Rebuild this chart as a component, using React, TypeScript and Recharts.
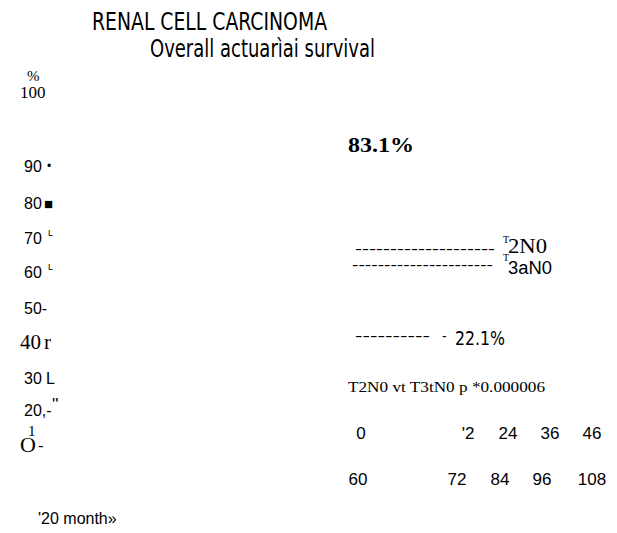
import React from "react";
import { ComposedChart, XAxis, YAxis, Customized } from "recharts";

// ---- data (text content) ----
const titleLines = ["RENAL CELL CARCINOMA", "Overall actuarìai survival"];
const yUnit = "%";
const yTickLabels = ["100", "90", "80", "70", "60", "50-", "40", "30", "20,-", "O"];
const yTickMarks = ["", "•", "■", "L", "L", "", "r", "L", "''", "-"];
const seriesNames = ["2N0", "3aN0"];
const survivalLabels = ["83.1%", "22.1%"];
const pValueText = "T2N0 vt T3tN0 p *0.000006";
const xTicksRow1 = ["0", "'2", "24", "36", "46"];
const xTicksRow2 = ["60", "72", "84", "96", "108"];
const xAxisLabel = "'20 month»";

// ---- layout / styles ----
const SANS = "'Liberation Sans', Arial, sans-serif";
const SERIF = "'Liberation Serif', 'Times New Roman', serif";
const COND = "'DejaVu Sans Condensed', 'DejaVu Sans', sans-serif";

const yTickY = [98, 172, 209, 244, 278, 314, 349, 384, 416, 452];
const yTickStyle = [
  { f: SERIF, s: 17, x: 20 },
  { f: SANS, s: 16, x: 24 },
  { f: SANS, s: 16, x: 24 },
  { f: SANS, s: 16, x: 24 },
  { f: SANS, s: 16, x: 24 },
  { f: SANS, s: 16, x: 24 },
  { f: SERIF, s: 21, x: 20 },
  { f: SANS, s: 16, x: 24 },
  { f: SANS, s: 16, x: 24 },
  { f: SERIF, s: 22, x: 20 },
];
const yMarkStyle = [
  null,
  { f: SANS, s: 12, x: 47, dy: -2 },
  { f: SANS, s: 15, x: 44, dy: 0 },
  { f: SANS, s: 9, x: 48, dy: -8 },
  { f: SANS, s: 9, x: 48, dy: -8 },
  null,
  { f: SERIF, s: 21, x: 44, dy: 0 },
  { f: SANS, s: 16, x: 46, dy: 0 },
  { f: SANS, s: 17, x: 52, dy: -6 },
  { f: SANS, s: 17, x: 38, dy: -1 },
];
const xRow1X = [361, 468, 508, 550, 592];
const xRow2X = [358, 457, 500, 542, 592];

const T = (props: any) => {
  const { x, y, size, family, weight, anchor, len, children } = props;
  return (
    <text
      x={x}
      y={y}
      fontSize={size}
      fontFamily={family}
      fontWeight={weight || "normal"}
      textAnchor={anchor || "start"}
      fill="#000"
      textLength={len}
      lengthAdjust={len ? "spacingAndGlyphs" : undefined}
    >
      {children}
    </text>
  );
};

const Overlay = () => (
  <g>
    <T x={92} y={30} size={24} family={COND} len={235}>{titleLines[0]}</T>
    <T x={150} y={57} size={24} family={COND} len={225}>{titleLines[1]}</T>

    <T x={27} y={81} size={15} family={SERIF}>{yUnit}</T>
    {yTickLabels.map((lab, i) => (
      <T key={"yt" + i} x={yTickStyle[i].x} y={yTickY[i]} size={yTickStyle[i].s} family={yTickStyle[i].f}>
        {lab}
      </T>
    ))}
    {yTickMarks.map((m, i) => {
      const st = yMarkStyle[i];
      if (!st || !m) return null;
      return (
        <T key={"ym" + i} x={st.x} y={yTickY[i] + st.dy} size={st.s} family={st.f}>
          {m}
        </T>
      );
    })}
    <T x={28} y={436} size={15} family={SERIF}>1</T>

    <T x={348} y={152} size={22} family={SERIF} weight="bold" len={66}>{survivalLabels[0]}</T>

    <T x={355} y={254} size={14} family={SANS} len={140}>--------------------</T>
    <T x={503} y={243} size={10} family={SERIF}>T</T>
    <T x={508} y={253} size={21} family={SERIF} len={39}>{seriesNames[0]}</T>

    <T x={352} y={270} size={14} family={SANS} len={141}>----------------------</T>
    <T x={503} y={261} size={10} family={SERIF}>T</T>
    <T x={508} y={274} size={18} family={SANS} len={44}>{seriesNames[1]}</T>

    <T x={355} y={341} size={14} family={SANS} len={75}>----------</T>
    <T x={442} y={341} size={14} family={SANS}>-</T>
    <T x={455} y={345} size={19} family={COND} len={50}>{survivalLabels[1]}</T>

    <T x={348} y={392} size={14} family={SERIF} len={197}>{pValueText}</T>

    {xTicksRow1.map((lab, i) => (
      <T key={"x1" + i} x={xRow1X[i]} y={439} size={17} family={SANS} anchor="middle">{lab}</T>
    ))}
    {xTicksRow2.map((lab, i) => (
      <T key={"x2" + i} x={xRow2X[i]} y={485} size={17} family={SANS} anchor="middle">{lab}</T>
    ))}

    <T x={38} y={524} size={16} family={SANS}>{xAxisLabel}</T>
  </g>
);

export default function App() {
  return (
    <div style={{ position: "absolute", left: 0, top: 0, width: 617, height: 533, background: "#fff" }}>
      <ComposedChart width={617} height={533} data={[]} margin={{ top: 0, right: 0, bottom: 0, left: 0 }}>
        <XAxis hide type="number" domain={[0, 120]} />
        <YAxis hide type="number" domain={[0, 100]} />
        <Customized component={Overlay} />
      </ComposedChart>
    </div>
  );
}
